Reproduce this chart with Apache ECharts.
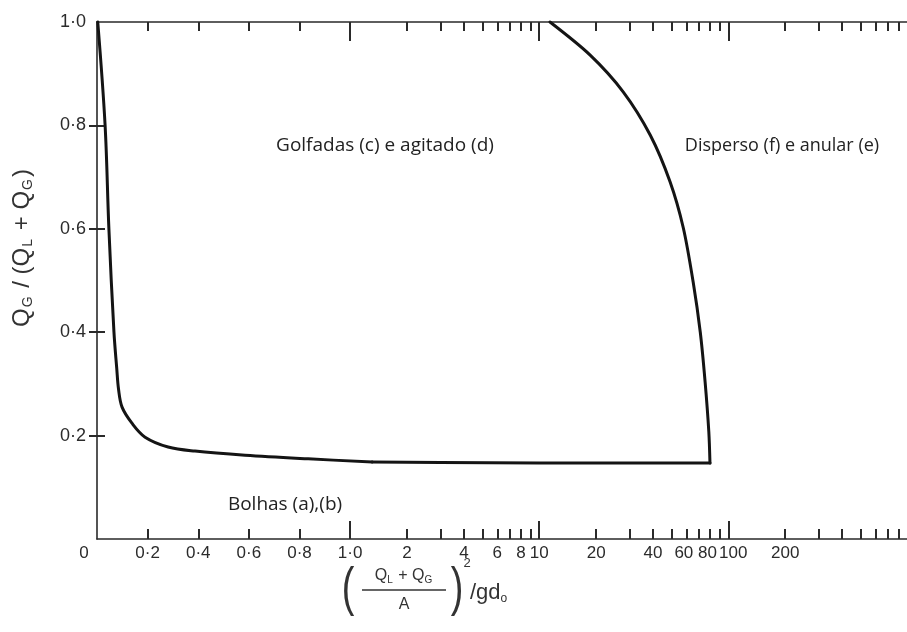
<!DOCTYPE html>
<html><head><meta charset="utf-8">
<script src="https://cdn.jsdelivr.net/npm/echarts@6/dist/echarts.min.js"></script>
<style>html,body{margin:0;padding:0;background:#fff}#c{width:907px;height:632px}</style>
</head><body><div id="c"></div>
<script>
// ---- data (original units) ----
// left branch of the boundary (top of the chart down to the knee)
const leftX = [0.003, 0.032, 0.047, 0.067, 0.078, 0.085, 0.099, 0.138, 0.19, 0.281, 0.387, 0.585, 0.834, 1.31];
const leftY = [1.0, 0.80, 0.60, 0.40, 0.33, 0.29, 0.255, 0.224, 0.197, 0.178, 0.170, 0.162, 0.155, 0.149];
// nearly flat bottom boundary
const bottomX = [1.31, 3, 10, 30, 80];
const bottomY = [0.149, 0.148, 0.147, 0.147, 0.147];
// right branch (bottom corner up to the top)
const rightX = [80, 78.9, 75.4, 71.1, 65.2, 57.8, 49.2, 38.7, 27.8, 18.6, 11.4];
const rightY = [0.147, 0.207, 0.304, 0.400, 0.497, 0.602, 0.691, 0.781, 0.865, 0.936, 1.0];

const xMinorTicks = [0.2, 0.4, 0.6, 0.8, 2, 3, 4, 5, 6, 7, 8, 9, 20, 30, 40, 50, 60, 70, 80, 90, 200, 300, 400, 500, 600, 700, 800];
const xMajorTicks = [1, 10, 100];
const xLabelValues = [0, 0.2, 0.4, 0.6, 0.8, 1, 2, 4, 6, 8, 10, 20, 40, 60, 80, 100, 200];
const xLabelTexts = ['0', '0·2', '0·4', '0·6', '0·8', '1·0', '2', '4', '6', '8', '10', '20', '40', '60', '80', '100', '200'];
const yTicks = [0.2, 0.4, 0.6, 0.8];
const yLabelValues = [0.2, 0.4, 0.6, 0.8, 1.0];
const yLabelTexts = ['0·2', '0·4', '0·6', '0·8', '1·0'];
const regionLabels = ['Golfadas (c) e agitado (d)', 'Disperso (f) e anular (e)', 'Bolhas (a),(b)'];

// ---- axis transform: linear 0..1, then logarithmic ----
const DEC = 0.747;            // width of one decade in linear units
const XMAX = 3.2;
function tx(v) { return v <= 1 ? v : 1 + DEC * Math.log10(v); }
function xLabelFor(t) {
  let best = 0, bd = 1e9;
  xLabelValues.forEach((v, i) => { const d = Math.abs(tx(v) - t); if (d < bd) { bd = d; best = i; } });
  const s = xLabelTexts[best];
  if (s === '0') return '{z|0}';
  if (s === '60') return '{l|60}';
  if (s === '80') return '{l|80}';
  if (s === '100') return '{r|100}';
  return '{n|' + s + '}';
}
function yLabelFor(v) {
  let best = 0, bd = 1e9;
  yLabelValues.forEach((w, i) => { const d = Math.abs(w - v); if (d < bd) { bd = d; best = i; } });
  return yLabelTexts[best];
}

const INK = '#2a2a2a';
const FONT = 'Liberation Sans';
const LBL = { fontSize: 17, color: '#2b2b2b', fontFamily: FONT };
const lineStyle = { color: INK, width: 1.6 };
const tickStyle = { color: INK, width: 2 };

function xAx(pos, showLine, ticks, len, withLabels) {
  return {
    type: 'value', position: pos, min: 0, max: XMAX,
    axisLine: { show: showLine, lineStyle: lineStyle },
    axisTick: { show: true, inside: true, length: len, customValues: ticks.map(tx), lineStyle: tickStyle },
    axisLabel: withLabels ? {
      show: true, customValues: xLabelValues.map(tx), formatter: xLabelFor, margin: 6,
      fontSize: 17, color: '#2b2b2b', fontFamily: FONT,
      rich: {
        n: LBL,
        z: Object.assign({ padding: [0, 26, 0, 0] }, LBL),
        l: Object.assign({ padding: [0, 5, 0, 0] }, LBL),
        r: Object.assign({ padding: [0, 0, 0, 10] }, LBL)
      }
    } : { show: false },
    splitLine: { show: false }
  };
}

const seriesStyle = { color: '#141414', width: 3, join: 'round', cap: 'round' };
function branch(xs, ys, smooth) {
  return {
    type: 'line', xAxisIndex: 0, yAxisIndex: 0,
    data: xs.map((x, i) => [tx(x), ys[i]]),
    showSymbol: false, symbol: 'none', smooth: smooth, clip: false,
    lineStyle: seriesStyle, z: 5
  };
}

const chart = echarts.init(document.getElementById('c'), null, { renderer: 'canvas' });
chart.setOption({
  animation: false,
  backgroundColor: '#fff',
  grid: { left: 97, right: 0, top: 22, bottom: 93, containLabel: false, outerBoundsMode: 'none' },
  xAxis: [
    xAx('bottom', true, xMinorTicks, 10, true),
    xAx('bottom', false, xMajorTicks, 18, false),
    xAx('top', true, xMinorTicks, 9, false),
    xAx('top', false, xMajorTicks, 19, false)
  ],
  yAxis: [
    {
      type: 'value', position: 'left', min: 0, max: 1, interval: 0.2,
      axisLine: { show: true, lineStyle: lineStyle },
      axisTick: { show: true, inside: true, length: 8, customValues: yTicks, lineStyle: tickStyle },
      axisLabel: { show: true, customValues: yLabelValues, formatter: yLabelFor, margin: 11, fontSize: 18, color: '#2b2b2b', fontFamily: FONT },
      splitLine: { show: false }
    },
    {
      type: 'value', position: 'right', min: 0, max: 1, interval: 0.2,
      axisLine: { show: false },
      axisTick: { show: true, inside: true, length: 8, customValues: yTicks, lineStyle: tickStyle },
      axisLabel: { show: false },
      splitLine: { show: false }
    }
  ],
  series: [
    branch(leftX, leftY, 0.35),
    branch(bottomX, bottomY, false),
    branch(rightX, rightY, 0.3)
  ],
  graphic: [
    { type: 'text', x: 385, y: 146, style: { text: regionLabels[0], font: '19px "Open Sans"', fill: '#222', align: 'center', verticalAlign: 'middle' } },
    { type: 'text', x: 782, y: 146, style: { text: regionLabels[1], font: '18px "Open Sans"', fill: '#222', align: 'center', verticalAlign: 'middle' } },
    { type: 'text', x: 285, y: 505, style: { text: regionLabels[2], font: '19px "Open Sans"', fill: '#222', align: 'center', verticalAlign: 'middle' } },
    // y-axis title
    {
      type: 'text', x: 22, y: 248, rotation: Math.PI / 2,
      style: {
        text: '{a|Q}{s|G}{a| / (Q}{s|L}{a| + Q}{s|G}{a|)}',
        align: 'center', verticalAlign: 'middle', fill: '#333',
        rich: {
          a: { fontSize: 24, fontFamily: FONT, fill: '#333', lineHeight: 30 },
          s: { fontSize: 14, fontFamily: FONT, fill: '#333', padding: [13, 2, 0, 1], lineHeight: 14 }
        }
      }
    },
    // x-axis title: ((QL + QG)/A)^2 / g d0
    { type: 'text', x: 348, y: 590, scaleX: 0.7, style: { text: '(', font: '300 54px "Liberation Sans"', fill: '#333', align: 'center', verticalAlign: 'middle' } },
    {
      type: 'text', x: 404, y: 576,
      style: {
        text: '{a|Q}{s|L}{a| + Q}{s|G}', align: 'center', verticalAlign: 'middle', fill: '#333',
        rich: {
          a: { fontSize: 16, fontFamily: FONT, fill: '#333', lineHeight: 20 },
          s: { fontSize: 10, fontFamily: FONT, fill: '#333', padding: [9, 1, 0, 0], lineHeight: 10 }
        }
      }
    },
    { type: 'line', shape: { x1: 362, y1: 590, x2: 446, y2: 590 }, style: { stroke: '#333', lineWidth: 1.3 } },
    { type: 'text', x: 404, y: 605, style: { text: 'A', font: '16px "Liberation Sans"', fill: '#333', align: 'center', verticalAlign: 'middle' } },
    { type: 'text', x: 457, y: 590, scaleX: 0.7, style: { text: ')', font: '300 54px "Liberation Sans"', fill: '#333', align: 'center', verticalAlign: 'middle' } },
    { type: 'text', x: 467, y: 563, style: { text: '2', font: '13px "Liberation Sans"', fill: '#333', align: 'center', verticalAlign: 'middle' } },
    {
      type: 'text', x: 470, y: 593,
      style: {
        text: '{a|/gd}{s|o}', align: 'left', verticalAlign: 'middle', fill: '#333',
        rich: {
          a: { fontSize: 22, fontFamily: FONT, fill: '#333', lineHeight: 26 },
          s: { fontSize: 12, fontFamily: FONT, fill: '#333', padding: [11, 0, 0, 0], lineHeight: 12 }
        }
      }
    }
  ]
});
</script>
</body></html>
